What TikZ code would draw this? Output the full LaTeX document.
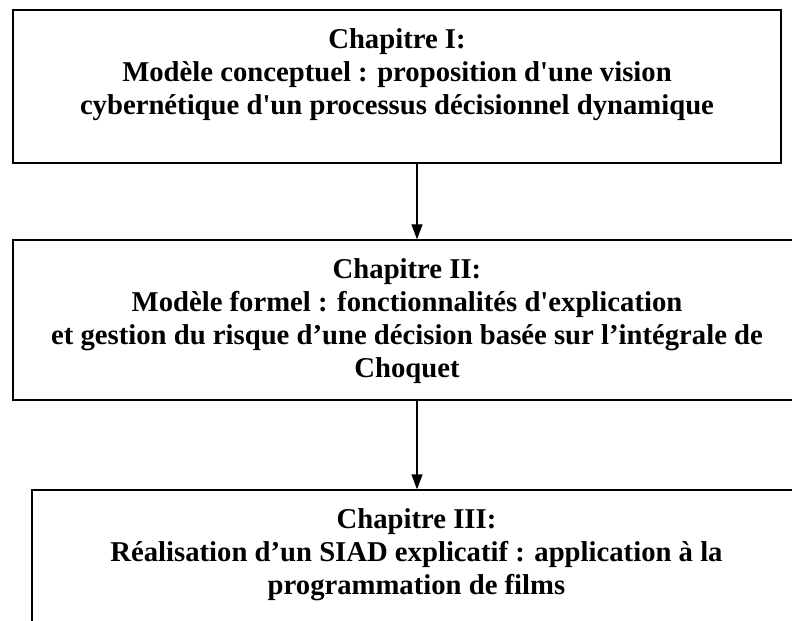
\documentclass[tikz,border=0pt]{standalone}
\usepackage{fontspec}
\setmainfont{Liberation Serif}
\usetikzlibrary{arrows.meta}
\begin{document}
\begin{tikzpicture}[x=1bp,y=-1bp,
  box/.style={draw=black, line width=1.3bp, rectangle, inner sep=0pt},
  lbl/.style={font=\bfseries\fontsize{28.8pt}{33.1pt}\selectfont, align=center, inner sep=0pt, anchor=north},
  arr/.style={-{Triangle[length=15bp,width=11bp]}, line width=1.3bp}]
\useasboundingbox (0,0) rectangle (792,621);
\fill[white] (0,0) rectangle (792,621);
\begin{scope}
\clip (0,0) rectangle (792,621);
\node[box, minimum width=768bp, minimum height=153bp] (b1) at (397,86.5) {};
\node[box, minimum width=788bp, minimum height=160bp] (b2) at (407,320) {};
\node[box, minimum width=769bp, minimum height=200bp] (b3) at (416.5,590) {};
\node[lbl] (t1) at (397,28) {Chapitre I:\\Modèle conceptuel : proposition d\textquotesingle une vision\\cybernétique d\textquotesingle un processus décisionnel dynamique};
\node[lbl] (t2) at (407,258) {Chapitre II:\\Modèle formel : fonctionnalités d\textquotesingle explication\\et gestion du risque d’une décision basée sur l’intégrale de\\Choquet};
\node[lbl] (t3) at (416.5,508) {Chapitre III:\\Réalisation d’un SIAD explicatif : application à la\\programmation de films};
\coordinate (ax) at (417,0);
\draw[arr] (b1.south -| ax) -- (b2.north -| ax);
\draw[arr] (b2.south -| ax) -- (b3.north -| ax);
\end{scope}
\end{tikzpicture}
\end{document}
